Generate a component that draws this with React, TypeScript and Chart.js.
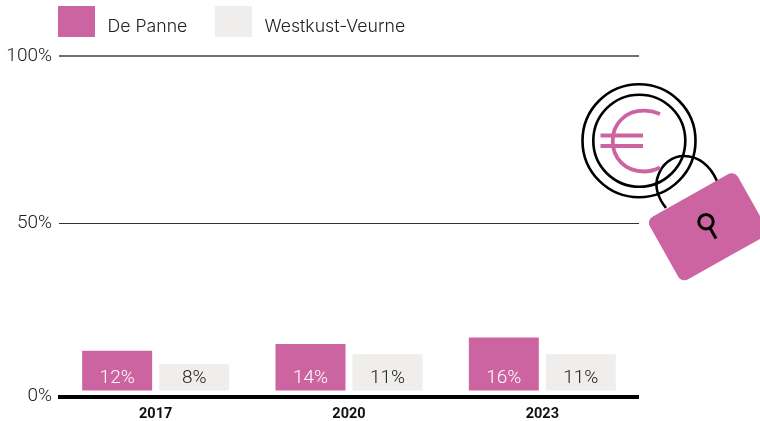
import React, { useEffect, useRef } from "react";
import { Chart, registerables } from "chart.js";

Chart.register(...registerables);

const categories = ["2017", "2020", "2023"];
const dePanne = [12, 14, 16];
const westkustVeurne = [8, 11, 11];
const yTicks = [0, 50, 100];
const PINK = "#CD64A2";
const GREY = "#EFEEED";
const INK = "#222";
const LIGHT = "Roboto";

const chromePlugin = {
  id: "chrome",
  afterDatasetsDraw(chart: any) {
    const { ctx, chartArea } = chart;
    ctx.save();
    ctx.fillStyle = "#000";
    ctx.fillRect(chartArea.left - 1, chartArea.bottom + 4, chartArea.right - chartArea.left + 1, 4);
    ctx.font = `300 19px ${LIGHT}`;
    ctx.textAlign = "center";
    ctx.textBaseline = "middle";
    chart.data.datasets.forEach((ds: any, i: number) => {
      chart.getDatasetMeta(i).data.forEach((bar: any, j: number) => {
        ctx.fillStyle = i === 0 ? "#fff" : INK;
        ctx.fillText(`${ds.data[j]}%`, bar.x, bar.base - 12);
      });
    });
    const xs = [58, 215];
    ctx.textAlign = "left";
    ctx.font = `300 17.7px Inter`;
    chart.data.datasets.forEach((ds: any, i: number) => {
      ctx.fillStyle = ds.backgroundColor;
      ctx.fillRect(xs[i], 6, 37, 31);
      ctx.fillStyle = INK;
      ctx.fillText(ds.label, xs[i] + 49.5, 26.5);
    });
    ctx.restore();
  },
};

export default function App() {
  const ref = useRef<HTMLCanvasElement>(null);
  useEffect(() => {
    const chart = new Chart(ref.current!, {
      type: "bar",
      data: {
        labels: categories,
        datasets: [
          { label: "De Panne", data: dePanne, backgroundColor: PINK, barPercentage: 0.909, categoryPercentage: 0.7966 },
          { label: "Westkust-Veurne", data: westkustVeurne, backgroundColor: GREY, barPercentage: 0.909, categoryPercentage: 0.7966 },
        ],
      },
      options: {
        responsive: false,
        animation: false,
        layout: { padding: { top: 56, right: 121, left: 0, bottom: 0 } },
        plugins: { legend: { display: false }, tooltip: { enabled: false } },
        scales: {
          x: {
            grid: { display: false },
            border: { display: false },
            afterFit: (s: any) => { s.height = 30; },
            ticks: { padding: 7, color: "#111", font: { family: "Roboto", size: 14.5, weight: "bold" } },
          },
          y: {
            min: 0,
            max: 100,
            afterFit: (s: any) => { s.width = 59; },
            afterBuildTicks: (s: any) => { s.ticks = yTicks.map((value) => ({ value })); },
            border: { display: false },
            grid: {
              drawTicks: false,
              lineWidth: (c: any) => (c.tick.value === 100 ? 2 : 1),
              color: (c: any) => (c.tick.value === 0 ? "transparent" : c.tick.value === 100 ? "#6f6f6f" : "#333"),
            },
            ticks: {
              padding: 7,
              color: INK,
              callback: (v: any) => (v === 0 ? ["", "0%"] : `${v}%`),
              font: (c: any) => ({ family: LIGHT, size: 19, weight: "300", lineHeight: c.tick?.value === 0 ? "10px" : 1.2 }),
            },
          },
        },
      },
      plugins: [chromePlugin],
    } as any);
    return () => chart.destroy();
  }, []);

  return (
    <div style={{ position: "absolute", left: 0, top: 0, width: 760, height: 421, overflow: "hidden" }}>
      <canvas ref={ref} width={760} height={421} style={{ display: "block" }} />
      <svg width={760} height={421} style={{ position: "absolute", left: 0, top: 0 }}>
        <g fill="none" stroke="#000" strokeWidth={2.6}>
          <circle cx={639} cy={140.7} r={56.5} />
          <circle cx={639.3} cy={140.7} r={46} />
          <path d="M666 208 C658 198 654 186 658 176 C662 164 672 156 684 156 C698 156 710 165 717 181" />
        </g>
        <g fill="none" stroke={PINK} strokeWidth={3.8}>
          <path d="M660 114 C654 111.5 649 110.7 644 110.7 C625 110.7 612.7 124 612.7 141 C612.7 158 625 171.5 644 171.5 C649 171.5 654 170.5 660 167.5" />
          <path d="M600.5 135.5 H643 M600.5 146 H643" />
        </g>
        <rect x={-51} y={-36} width={101} height={72} rx={7} fill={PINK} transform="translate(708.5 226.5) rotate(-29.3)" />
        <g fill="none" stroke="#000" strokeWidth={3}>
          <circle cx={706} cy={221.7} r={7.2} />
          <path d="M710 228 L716 238.5" />
        </g>
      </svg>
    </div>
  );
}
